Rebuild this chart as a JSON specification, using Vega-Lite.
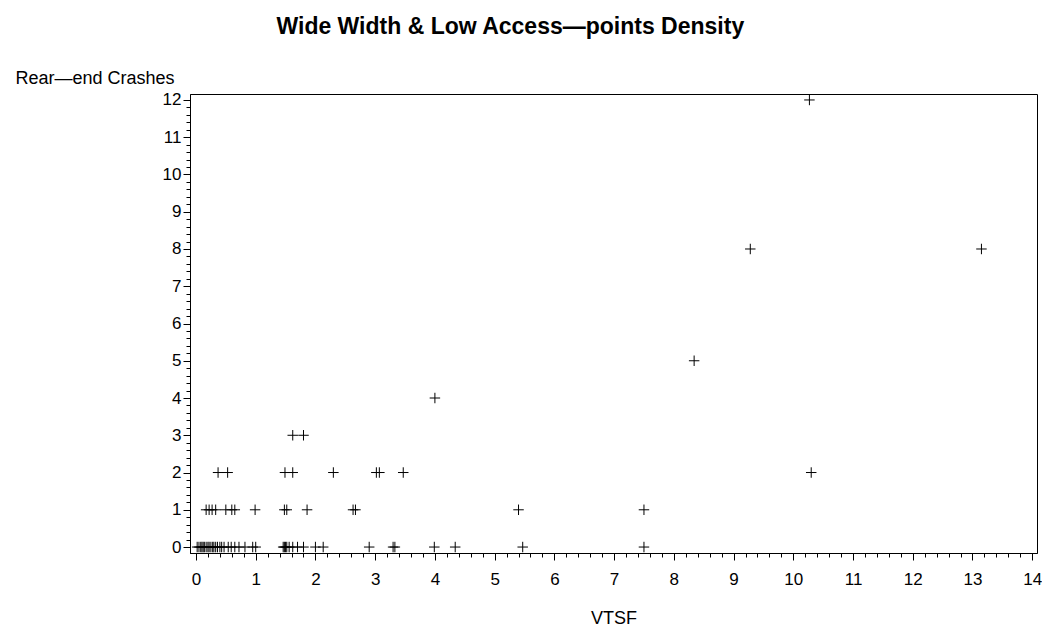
{
  "$schema": "https://vega.github.io/schema/vega-lite/v6.json",
  "autosize": "none",
  "width": 847,
  "height": 459,
  "padding": {"left": 190, "top": 94, "right": 5, "bottom": 80},
  "background": "white",
  "title": {
    "text": "Wide Width & Low Access—points Density",
    "font": "Liberation Sans",
    "fontSize": 23,
    "fontWeight": "bold",
    "color": "black",
    "anchor": "middle",
    "frame": "bounds",
    "offset": 30,
    "dx": -18
  },
  "config": {
    "view": {"stroke": "black", "strokeWidth": 1},
    "axis": {
      "labelFont": "Liberation Sans",
      "titleFont": "Liberation Sans",
      "labelFontSize": 17,
      "titleFontSize": 18,
      "labelColor": "black",
      "titleColor": "black",
      "titleFontWeight": "normal",
      "domainColor": "black",
      "tickColor": "black",
      "grid": false
    }
  },
  "data": {
    "values": [
      {"vtsf": 0.02, "crashes": 0}, {"vtsf": 0.05, "crashes": 0}, {"vtsf": 0.08, "crashes": 0},
      {"vtsf": 0.1, "crashes": 0}, {"vtsf": 0.12, "crashes": 0}, {"vtsf": 0.14, "crashes": 0},
      {"vtsf": 0.17, "crashes": 0}, {"vtsf": 0.2, "crashes": 0}, {"vtsf": 0.22, "crashes": 0},
      {"vtsf": 0.25, "crashes": 0}, {"vtsf": 0.28, "crashes": 0}, {"vtsf": 0.3, "crashes": 0},
      {"vtsf": 0.33, "crashes": 0}, {"vtsf": 0.36, "crashes": 0}, {"vtsf": 0.4, "crashes": 0},
      {"vtsf": 0.43, "crashes": 0}, {"vtsf": 0.47, "crashes": 0}, {"vtsf": 0.54, "crashes": 0},
      {"vtsf": 0.59, "crashes": 0}, {"vtsf": 0.65, "crashes": 0}, {"vtsf": 0.72, "crashes": 0},
      {"vtsf": 0.82, "crashes": 0}, {"vtsf": 0.95, "crashes": 0}, {"vtsf": 1.0, "crashes": 0},
      {"vtsf": 1.46, "crashes": 0}, {"vtsf": 1.48, "crashes": 0}, {"vtsf": 1.5, "crashes": 0},
      {"vtsf": 1.52, "crashes": 0}, {"vtsf": 1.56, "crashes": 0}, {"vtsf": 1.62, "crashes": 0},
      {"vtsf": 1.7, "crashes": 0}, {"vtsf": 1.8, "crashes": 0}, {"vtsf": 2.0, "crashes": 0},
      {"vtsf": 2.13, "crashes": 0}, {"vtsf": 2.9, "crashes": 0}, {"vtsf": 3.3, "crashes": 0},
      {"vtsf": 3.33, "crashes": 0}, {"vtsf": 3.99, "crashes": 0}, {"vtsf": 4.34, "crashes": 0},
      {"vtsf": 5.47, "crashes": 0}, {"vtsf": 7.5, "crashes": 0},
      {"vtsf": 0.17, "crashes": 1}, {"vtsf": 0.22, "crashes": 1}, {"vtsf": 0.27, "crashes": 1},
      {"vtsf": 0.33, "crashes": 1}, {"vtsf": 0.5, "crashes": 1}, {"vtsf": 0.6, "crashes": 1},
      {"vtsf": 0.65, "crashes": 1}, {"vtsf": 0.99, "crashes": 1}, {"vtsf": 1.48, "crashes": 1},
      {"vtsf": 1.52, "crashes": 1}, {"vtsf": 1.86, "crashes": 1}, {"vtsf": 2.63, "crashes": 1},
      {"vtsf": 2.67, "crashes": 1}, {"vtsf": 5.4, "crashes": 1}, {"vtsf": 7.5, "crashes": 1},
      {"vtsf": 0.37, "crashes": 2}, {"vtsf": 0.53, "crashes": 2}, {"vtsf": 1.49, "crashes": 2},
      {"vtsf": 1.62, "crashes": 2}, {"vtsf": 2.3, "crashes": 2}, {"vtsf": 3.02, "crashes": 2},
      {"vtsf": 3.07, "crashes": 2}, {"vtsf": 3.47, "crashes": 2}, {"vtsf": 10.3, "crashes": 2},
      {"vtsf": 1.62, "crashes": 3}, {"vtsf": 1.8, "crashes": 3},
      {"vtsf": 4.0, "crashes": 4},
      {"vtsf": 8.34, "crashes": 5},
      {"vtsf": 9.28, "crashes": 8}, {"vtsf": 13.15, "crashes": 8},
      {"vtsf": 10.27, "crashes": 12}
    ]
  },
  "layer": [
    {
      "mark": {"type": "point", "shape": "M-1,0L1,0M0,-1L0,1", "size": 110, "filled": false, "stroke": "black", "strokeWidth": 1, "opacity": 1, "clip": false},
      "encoding": {
        "x": {
          "field": "vtsf", "type": "quantitative",
          "scale": {"domain": [-0.1, 14.08], "nice": false, "zero": false},
          "axis": {"values": [0,1,2,3,4,5,6,7,8,9,10,11,12,13,14], "format": "d", "tickSize": 7, "labelPadding": 11, "title": "VTSF", "titlePadding": 22, "orient": "bottom"}
        },
        "y": {
          "field": "crashes", "type": "quantitative",
          "scale": {"domain": [-0.16, 12.16], "nice": false, "zero": false},
          "axis": {"values": [0,1,2,3,4,5,6,7,8,9,10,11,12], "format": "d", "tickSize": 7, "labelPadding": 2, "title": "Rear—end Crashes", "titleAngle": 0, "titleAlign": "left", "titleBaseline": "middle", "titleX": -175, "titleY": -16, "orient": "left"}
        }
      }
    },
    {
      "mark": {"type": "point", "opacity": 0},
      "encoding": {
        "x": {
          "field": "vtsf", "type": "quantitative",
          "axis": {"values": [0.2,0.4,0.6,0.8,1.2,1.4,1.6,1.8,2.2,2.4,2.6,2.8,3.2,3.4,3.6,3.8,4.2,4.4,4.6,4.8,5.2,5.4,5.6,5.8,6.2,6.4,6.6,6.8,7.2,7.4,7.6,7.8,8.2,8.4,8.6,8.8,9.2,9.4,9.6,9.8,10.2,10.4,10.6,10.8,11.2,11.4,11.6,11.8,12.2,12.4,12.6,12.8,13.2,13.4,13.6,13.8], "labels": false, "domain": false, "tickSize": 4, "title": null, "orient": "bottom"}
        },
        "y": {
          "field": "crashes", "type": "quantitative",
          "axis": {"values": [0.2,0.4,0.6,0.8,1.2,1.4,1.6,1.8,2.2,2.4,2.6,2.8,3.2,3.4,3.6,3.8,4.2,4.4,4.6,4.8,5.2,5.4,5.6,5.8,6.2,6.4,6.6,6.8,7.2,7.4,7.6,7.8,8.2,8.4,8.6,8.8,9.2,9.4,9.6,9.8,10.2,10.4,10.6,10.8,11.2,11.4,11.6,11.8], "labels": false, "domain": false, "tickSize": 4, "title": null, "orient": "left"}
        }
      }
    }
  ],
  "resolve": {"axis": {"x": "independent", "y": "independent"}}
}
